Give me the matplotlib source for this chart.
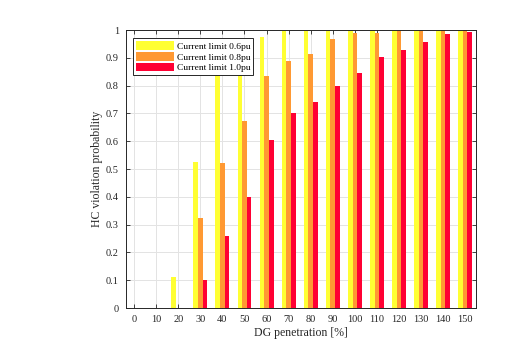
import matplotlib.pyplot as plt
import numpy as np

plt.rcParams['font.family'] = ['Liberation Serif', 'DejaVu Serif']

# DG penetration levels and violation probabilities per current limit
penetration = [0, 10, 20, 30, 40, 50, 60, 70, 80, 90, 100, 110, 120, 130, 140, 150]
limit_06 = [0, 0, 0.11, 0.525, 0.86, 0.93, 0.975, 0.995, 1.0, 1.0, 1.0, 1.0, 1.0, 1.0, 1.0, 1.0]
limit_08 = [0, 0, 0, 0.325, 0.52, 0.672, 0.835, 0.888, 0.913, 0.968, 0.99, 0.99, 0.995, 0.998, 1.0, 1.0]
limit_10 = [0, 0, 0, 0.10, 0.258, 0.40, 0.603, 0.70, 0.741, 0.799, 0.847, 0.903, 0.93, 0.957, 0.985, 0.992]
labels = ['Current limit 0.6pu', 'Current limit 0.8pu', 'Current limit 1.0pu']
colors = ['#ffff33', '#ff9933', '#ff0033']

fig = plt.figure(figsize=(5.05, 3.5), dpi=100)
ax = fig.add_axes([0.249, 0.12, 0.694, 0.794])

x = np.array(penetration)
w = 2.1
for i, (vals, lab, c) in enumerate(zip([limit_06, limit_08, limit_10], labels, colors)):
    ax.bar(x + (i - 1) * w, vals, width=w, color=c, label=lab, zorder=2)

ax.set_xlim(-3.8, 155)
ax.set_ylim(0, 1)
ax.set_xticks(penetration)
ax.set_yticks(np.arange(0, 1.01, 0.1))
ax.set_yticklabels(['0', '0.1', '0.2', '0.3', '0.4', '0.5', '0.6', '0.7', '0.8', '0.9', '1'])
ax.grid(True, color='#e3e3e3', linewidth=0.7, zorder=0)
ax.set_axisbelow(True)
ax.tick_params(direction='in', top=True, right=True, length=3, width=0.6,
               labelsize=7.5, colors='#262626', pad=5)
for s in ax.spines.values():
    s.set_color('#262626')
    s.set_linewidth(0.7)

ax.set_xlabel('DG penetration [%]', fontsize=8.5, color='#262626', labelpad=2)
ax.set_ylabel('HC violation probability', fontsize=8.5, color='#262626', labelpad=2)

leg = ax.legend(loc='upper left', bbox_to_anchor=(0.022, 0.97), fontsize=6.8,
                frameon=True, fancybox=False, edgecolor='#262626', framealpha=1,
                handlelength=4.0, handleheight=1.0, handletextpad=0.3,
                labelspacing=0.15, borderpad=0.3, borderaxespad=0)
leg.get_frame().set_linewidth(0.7)

fig.savefig('out.png', dpi=100)
